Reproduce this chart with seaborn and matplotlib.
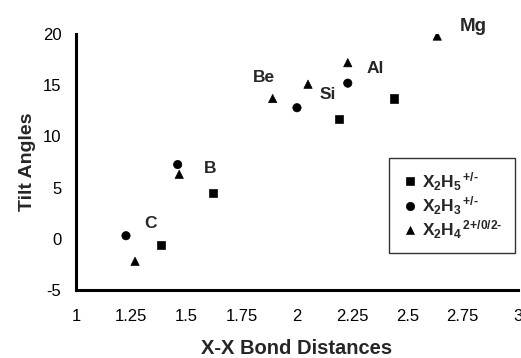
import matplotlib
matplotlib.use("Agg")
import matplotlib.pyplot as plt
import seaborn as sns
import pandas as pd

# Data
sq_x = [1.385, 1.62, 2.19, 2.44]
sq_y = [-0.6, 4.5, 11.7, 13.7]
ci_x = [1.226, 1.46, 2.0, 2.23]
ci_y = [0.3, 7.25, 12.8, 15.2]
tr_x = [1.267, 1.467, 1.89, 2.05, 2.23, 2.635]
tr_y = [-2.2, 6.3, 13.7, 15.1, 17.2, 19.8]
series_names = [r'$\mathbf{X_2H_5}^{\,\text{+/-}}$',
                r'$\mathbf{X_2H_3}^{\,\text{+/-}}$',
                r'$\mathbf{X_2H_4}^{\,\text{2+/0/2-}}$']
elements = ['C', 'B', 'Be', 'Si', 'Al', 'Mg']
elem_x = [1.335, 1.605, 1.85, 2.14, 2.355, 2.8]
elem_y = [1.5, 6.9, 15.8, 14.1, 16.6, 20.7]
x_ticks = [1, 1.25, 1.5, 1.75, 2, 2.25, 2.5, 2.75, 3]
x_tick_labels = ['1', '1.25', '1.5', '1.75', '2', '2.25', '2.5', '2.75', '3']
y_ticks = [-5, 0, 5, 10, 15, 20]

sns.set_theme(style="white")
plt.rcParams['font.family'] = ['Liberation Sans', 'DejaVu Sans']
plt.rcParams['font.weight'] = 'bold'
plt.rcParams['axes.unicode_minus'] = False
plt.rcParams['mathtext.fontset'] = 'custom'
plt.rcParams['mathtext.rm'] = 'Liberation Sans:bold'
plt.rcParams['mathtext.bf'] = 'Liberation Sans:bold'
plt.rcParams['mathtext.it'] = 'Liberation Sans:italic'
plt.rcParams['mathtext.default'] = 'bf'

df = pd.DataFrame({
    'x': sq_x + ci_x + tr_x,
    'y': sq_y + ci_y + tr_y,
    'series': [series_names[0]] * len(sq_x) + [series_names[1]] * len(ci_x) + [series_names[2]] * len(tr_x),
})

fig = plt.figure(figsize=(5.21, 3.58), dpi=100)
ax = fig.add_axes([0.146, 0.19, 0.848, 0.715])

sns.scatterplot(data=df, x='x', y='y', style='series',
                markers={series_names[0]: 's', series_names[1]: 'o', series_names[2]: '^'},
                color='black', edgecolor='black', s=36, ax=ax, legend=True)

for name, ex, ey in zip(elements, elem_x, elem_y):
    ax.text(ex, ey, name, fontsize=13.5 if name == 'Mg' else 12.5,
            fontweight='bold', ha='center', va='center')

ax.set_xlim(1, 3)
ax.set_ylim(-5, 20)
ax.set_xticks(x_ticks)
ax.set_xticklabels(x_tick_labels)
ax.set_yticks(y_ticks)
for s in ['top', 'right']:
    ax.spines[s].set_visible(False)
for s in ['left', 'bottom']:
    ax.spines[s].set_color('black')
    ax.spines[s].set_linewidth(2.2)
ax.tick_params(axis='both', direction='inout', length=7, width=1.8, color='black',
               labelsize=12, labelcolor='black', pad=7)
ax.tick_params(axis='x', pad=10)
for lab in ax.get_xticklabels() + ax.get_yticklabels():
    lab.set_fontweight('normal')
ax.set_xlabel('X-X Bond Distances', fontsize=14.5, fontweight='bold', labelpad=11)
ax.set_ylabel('Tilt Angles', fontsize=14, fontweight='bold', labelpad=5)

leg = ax.legend(loc='upper left', bbox_to_anchor=(0.708, 0.516), frameon=True,
                fancybox=False, edgecolor='black', fontsize=12.5, handletextpad=0.2,
                borderpad=0.7, labelspacing=0.1, handlelength=1.0, borderaxespad=0)
leg.get_frame().set_linewidth(1.0)
for h in leg.legend_handles:
    h.set_color('black')

fig.savefig('out.png', dpi=100)
